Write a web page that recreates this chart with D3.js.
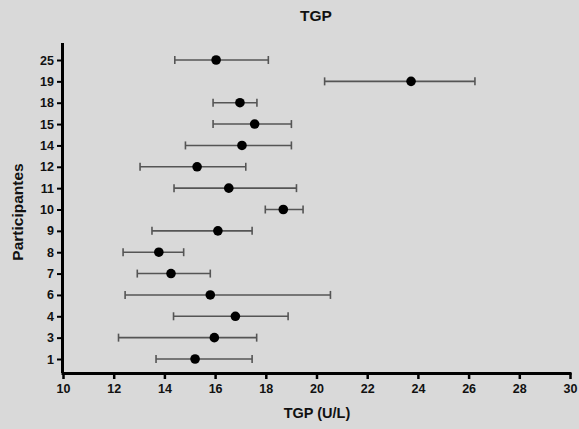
<!DOCTYPE html>
<html>
<head>
<meta charset="utf-8">
<script src="https://cdn.jsdelivr.net/npm/d3@7"></script>
<style>
  body { margin: 0; background: #d9d9d9; }
  svg { display: block; font-family: "Liberation Sans", Arial, sans-serif; }
</style>
</head>
<body>
<div id="chart"></div>
<script>
// participants, bottom to top
const participants = ["1", "3", "4", "6", "7", "8", "9", "10", "11", "12", "14", "15", "18", "19", "25"];
const means = [15.21, 15.97, 16.80, 15.81, 14.26, 13.78, 16.11, 18.69, 16.54, 15.29, 17.06, 17.56, 16.98, 23.73, 16.04];
const lows  = [13.67, 12.19, 14.36, 12.45, 12.93, 12.37, 13.51, 17.98, 14.38, 13.04, 14.83, 15.92, 15.92, 20.32, 14.41];
const highs = [17.46, 17.64, 18.88, 20.55, 15.81, 14.76, 17.46, 19.47, 19.21, 17.21, 19.01, 19.01, 17.65, 26.25, 18.10];
const xTicks = [10, 12, 14, 16, 18, 20, 22, 24, 26, 28, 30];

const W = 579, H = 429;
const plotLeft = 63, plotRight = 570, plotTop = 43, plotBottom = 373;

const svg = d3.select("#chart").append("svg")
    .attr("width", W)
    .attr("height", H);

const x = d3.scaleLinear().domain([10, 30]).range([plotLeft, plotRight]);
const y = d3.scalePoint().domain(participants).range([359, 60]);

const rows = participants.map((p, i) => ({ p, mean: means[i], lo: lows[i], hi: highs[i] }));

// x axis
const gx = svg.append("g")
    .attr("transform", `translate(0,${plotBottom})`)
    .call(d3.axisBottom(x).tickValues(xTicks).tickSize(6).tickSizeOuter(0).tickPadding(5));
gx.select(".domain").attr("stroke", "#000").attr("stroke-width", 3)
    .attr("d", `M${plotLeft - 1.5},0.5H${plotRight + 1.5}`);
gx.selectAll(".tick line").attr("stroke", "#000").attr("stroke-width", 2.5);
gx.selectAll(".tick text").attr("fill", "#111").attr("font-size", 12.5).attr("font-weight", "bold");

// y axis
const gy = svg.append("g")
    .attr("transform", `translate(${plotLeft},0)`)
    .call(d3.axisLeft(y).tickSize(6).tickSizeOuter(0).tickPadding(3));
gy.select(".domain").attr("stroke", "#000").attr("stroke-width", 3)
    .attr("d", `M-0.5,${plotTop}V${plotBottom}`);
gy.selectAll(".tick line").attr("stroke", "#000").attr("stroke-width", 2);
gy.selectAll(".tick text").attr("fill", "#111").attr("font-size", 12.5).attr("font-weight", "bold");

// error bars
const bars = svg.append("g").attr("stroke", "#555").attr("stroke-width", 1.6);
bars.selectAll("line.range").data(rows).join("line")
    .attr("class", "range")
    .attr("x1", d => x(d.lo)).attr("x2", d => x(d.hi))
    .attr("y1", d => y(d.p)).attr("y2", d => y(d.p));
bars.selectAll("line.capl").data(rows).join("line")
    .attr("class", "capl")
    .attr("x1", d => x(d.lo)).attr("x2", d => x(d.lo))
    .attr("y1", d => y(d.p) - 4).attr("y2", d => y(d.p) + 4);
bars.selectAll("line.caph").data(rows).join("line")
    .attr("class", "caph")
    .attr("x1", d => x(d.hi)).attr("x2", d => x(d.hi))
    .attr("y1", d => y(d.p) - 4).attr("y2", d => y(d.p) + 4);

// means
svg.append("g").selectAll("circle").data(rows).join("circle")
    .attr("cx", d => x(d.mean))
    .attr("cy", d => y(d.p))
    .attr("r", 4.8)
    .attr("fill", "#000");

// titles
svg.append("text")
    .attr("x", 316).attr("y", 21)
    .attr("text-anchor", "middle")
    .attr("font-size", 15.5).attr("font-weight", "bold").attr("fill", "#111")
    .text("TGP");

svg.append("text")
    .attr("x", 317).attr("y", 418)
    .attr("text-anchor", "middle")
    .attr("font-size", 14.5).attr("font-weight", "bold").attr("fill", "#111")
    .text("TGP (U/L)");

svg.append("text")
    .attr("transform", "translate(23,212) rotate(-90)")
    .attr("text-anchor", "middle")
    .attr("font-size", 15.5).attr("font-weight", "bold").attr("fill", "#111")
    .text("Participantes");
</script>
</body>
</html>
